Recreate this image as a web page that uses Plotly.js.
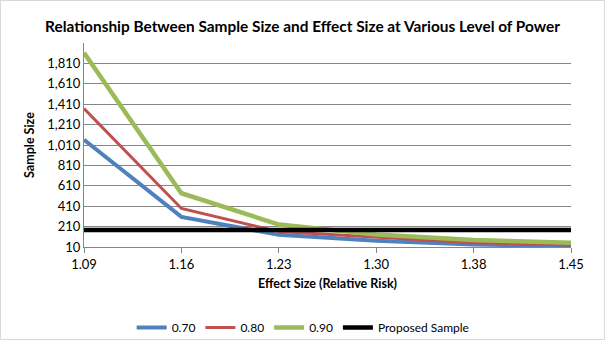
<!DOCTYPE html>
<html>
<head>
<meta charset="utf-8">
<script src="https://cdn.plot.ly/plotly-3.0.1.min.js"></script>
<style>
  html, body { margin: 0; padding: 0; background: #fff; }
  #chart { width: 605px; height: 340px; box-sizing: border-box; border: 1px solid #d9d9d9; }
</style>
</head>
<body>
<div id="chart"></div>
<script>
// Effect size categories (relative risk)
const effectSize = ['1.09', '1.16', '1.23', '1.30', '1.38', '1.45'];
// Sample size by power level
const power070 = [1062, 305, 129, 72, 35, 18];
const power080 = [1367, 388, 161, 107, 52, 29];
const power090 = [1915, 537, 230, 133, 78, 52];
const proposedSample = [176, 176, 176, 176, 176, 176];
// Y-axis ticks
const yTicks = [10, 210, 410, 610, 810, 1010, 1210, 1410, 1610, 1810];
const yTickText = ['10', '210', '410', '610', '810', '1,010', '1,210', '1,410', '1,610', '1,810'];

const FONT = 'Lato, "Open Sans", sans-serif';

const traces = [
  { name: '0.70', x: effectSize, y: power070, type: 'scatter', mode: 'lines', line: { color: '#4f81bd', width: 4 } },
  { name: '0.80', x: effectSize, y: power080, type: 'scatter', mode: 'lines', line: { color: '#c0504d', width: 3 } },
  { name: '0.90', x: effectSize, y: power090, type: 'scatter', mode: 'lines', line: { color: '#9bbb59', width: 4.5 } },
  { name: 'Proposed Sample', x: effectSize, y: proposedSample, type: 'scatter', mode: 'lines', line: { color: '#000000', width: 4.5 } }
];

const layout = {
  width: 603, height: 338,
  margin: { l: 83, r: 33, t: 42, b: 92, autoexpand: false },
  paper_bgcolor: '#fff', plot_bgcolor: '#fff',
  font: { family: FONT, size: 13, color: '#000' },
  title: { text: '<b>Relationship Between Sample Size and Effect Size at Various Level of Power</b>',
           font: { family: FONT, size: 15.4, color: '#000' }, x: 0.5, xanchor: 'center', y: 0.925, yanchor: 'middle' },
  xaxis: {
    type: 'category', range: [0, 5],
    showgrid: false, zeroline: false,
    showline: true, linecolor: '#868686', linewidth: 1,
    ticks: 'outside', ticklen: 5, tickcolor: '#868686',
    tickfont: { family: FONT, size: 13, color: '#000' },
    title: { text: '<b>Effect Size (Relative Risk)</b>', font: { family: FONT, size: 12.5, color: '#000' }, standoff: 8 }
  },
  yaxis: {
    range: [10, 2010],
    tickvals: yTicks, ticktext: yTickText,
    showgrid: true, gridcolor: '#868686', gridwidth: 1,
    zeroline: false, showline: true, linecolor: '#868686', linewidth: 1,
    ticks: '', ticklen: 0,
    tickfont: { family: FONT, size: 13, color: '#000' },
    title: { text: '<b>Sample Size</b>', font: { family: FONT, size: 12.5, color: '#000' }, standoff: 9 }
  },
  legend: {
    orientation: 'h', x: 0.45, xanchor: 'center', y: -0.395, yanchor: 'middle',
    font: { family: FONT, size: 12, color: '#000' },
    itemwidth: 30, tracegroupgap: 0
  },
  showlegend: true
};

Plotly.newPlot('chart', traces, layout, { displayModeBar: false, staticPlot: true });
</script>
</body>
</html>
